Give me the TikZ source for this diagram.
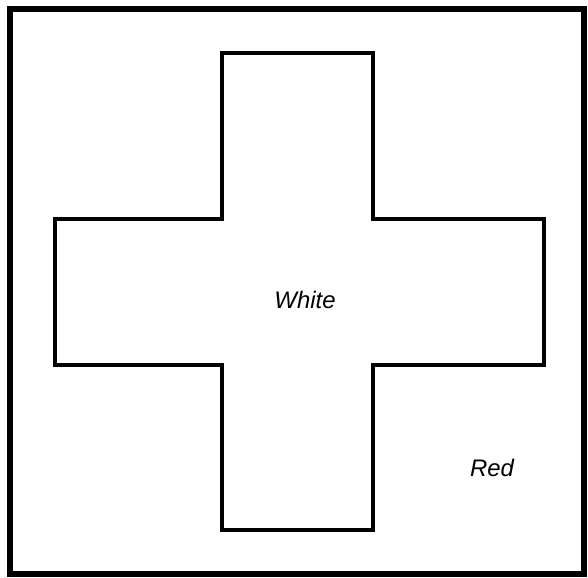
\documentclass[tikz,border=0pt]{standalone}
\usepackage{fontspec}
\setsansfont{Liberation Sans}

\begin{document}
\begin{tikzpicture}[x=0.025cm, y=-0.025cm,
  flag/.style={line width=4.2pt},
  cross/.style={line width=2.4pt, line join=miter},
  colour/.style={font=\sffamily\itshape\fontsize{17}{19}\selectfont}]
  \useasboundingbox (0,0) rectangle (588,578);
  % red field
  \draw[flag] (10,9) rectangle (584,574);
  % white cross
  \draw[cross] (222,53) -- (373,53) -- (373,219) -- (544,219) -- (544,365)
    -- (373,365) -- (373,530) -- (222,530) -- (222,365) -- (55,365)
    -- (55,219) -- (222,219) -- cycle;
  \node[colour] (white) at (305,300) {White};
  \node[colour] (red)   at (492,468) {Red};
\end{tikzpicture}
\end{document}
